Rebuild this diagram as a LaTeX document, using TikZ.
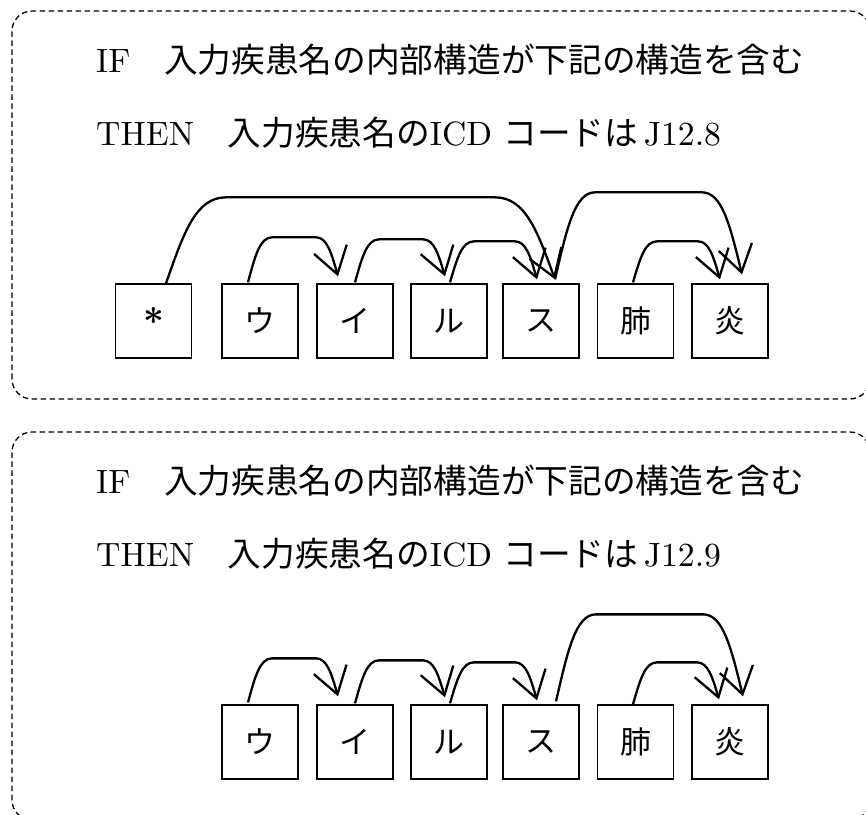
\documentclass[tikz,border=0pt]{standalone}
\usepackage{fontspec}
\setmainfont{lmroman10-regular.otf}[BoldFont=lmroman10-bold.otf]
\newfontfamily\cjk{Noto Sans CJK JP}
\usetikzlibrary{arrows.meta,calc}
% #1 start, #2 end, #3 rise above start, #4 start corner width, #5 end corner width
\newcommand\archto[5]{%
  \draw[arr] let \p1=#1, \p2=#2, \n1={\y1+#3} in
    (\p1) .. controls ({\x1+0.3*#4},{\y1+0.6*#3}) and ({\x1+0.5*#4},{\n1}) .. ({\x1+#4},{\n1})
    -- ({\x2-#5},{\n1})
    .. controls ({\x2-0.5*#5},{\n1}) and ({\x2-0.3*#5},{\y2+0.6*(\n1-\y2)}) .. (\p2);}
\begin{document}
\begin{tikzpicture}[x=1pt,y=1pt,
  box/.style={draw,line width=1.3pt,minimum width=76pt,minimum height=74pt,inner sep=0pt,font=\cjk\fontsize{31}{31}\selectfont},
  frame/.style={draw,line width=1.3pt,dash pattern=on 5.5pt off 3.5pt,rounded corners=20pt},
  arr/.style={line width=2.3pt,-{Straight Barb[length=26pt,width=34pt,line width=2.3pt]}},
  txt/.style={anchor=base west,inner sep=0pt,font=\fontsize{33.7}{40}\selectfont}]
\clip (0,0) rectangle (866,814);

% frames
\draw[frame] (12,415) rectangle (870,803);
\draw[frame] (12,-6) rectangle (870,382);

% ---- top panel
\node[txt] (if1) at (96,741) {IF{\cjk　入力疾患名の内部構造が下記の構造を含む}};
\node[txt] (then1) at (96,668) {THEN{\cjk　入力疾患名の}ICD {\cjk コードは}\,J12.8};

\node[box,font=\bfseries\fontsize{36}{36}\selectfont] (a0) at (153.5,493) {*};
\node[box] (a1) at (260,493) {ウ};
\node[box] (a2) at (355,493) {イ};
\node[box] (a3) at (449,493) {ル};
\node[box] (a4) at (541,493) {ス};
\node[box] (a5) at (635.5,493) {肺};
\node[box] (a6) at (730,493) {炎};

\archto{([xshift=12.5pt]a0.north)}{([xshift=14pt,yshift=4pt]a4.north)}{86}{60}{60}
\archto{([xshift=-12pt,yshift=1pt]a1.north)}{([xshift=-17pt,yshift=7pt]a2.north)}{45}{24}{22}
\archto{([yshift=1pt]a2.north)}{([xshift=-4pt,yshift=7pt]a3.north)}{43}{24}{22}
\archto{([xshift=1pt,yshift=1pt]a3.north)}{([xshift=-4pt,yshift=4pt]a4.north)}{41}{24}{22}
\archto{([xshift=14pt,yshift=4pt]a4.north)}{([xshift=12pt,yshift=9pt]a6.north)}{87}{40}{40}
\archto{([xshift=-2.5pt,yshift=1pt]a5.north)}{([xshift=-10pt,yshift=4pt]a6.north)}{41}{24}{22}

% ---- bottom panel
\node[txt] (if2) at (96,320) {IF{\cjk　入力疾患名の内部構造が下記の構造を含む}};
\node[txt] (then2) at (96,248) {THEN{\cjk　入力疾患名の}ICD {\cjk コードは}\,J12.9};

\node[box] (b1) at (260,72) {ウ};
\node[box] (b2) at (355,72) {イ};
\node[box] (b3) at (449,72) {ル};
\node[box] (b4) at (541,72) {ス};
\node[box] (b5) at (635.5,72) {肺};
\node[box] (b6) at (730,72) {炎};

\archto{([xshift=-12pt,yshift=2pt]b1.north)}{([xshift=-17pt,yshift=8pt]b2.north)}{44}{24}{22}
\archto{([yshift=1pt]b2.north)}{([xshift=-4pt,yshift=7pt]b3.north)}{43}{24}{22}
\archto{([xshift=1pt,yshift=1pt]b3.north)}{([xshift=-4pt,yshift=4pt]b4.north)}{41}{24}{22}
\archto{([xshift=15pt,yshift=3pt]b4.north)}{([xshift=13pt,yshift=8pt]b6.north)}{87}{40}{40}
\archto{([xshift=-2.5pt,yshift=0pt]b5.north)}{([xshift=-11pt,yshift=5pt]b6.north)}{42}{24}{22}
\end{tikzpicture}
\end{document}
